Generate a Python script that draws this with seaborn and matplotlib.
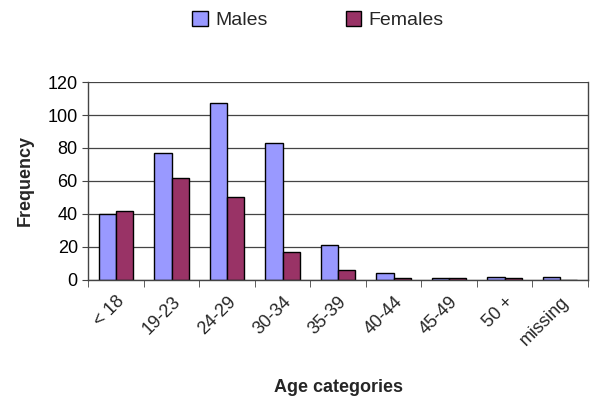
import numpy as np
import pandas as pd
import matplotlib
matplotlib.use("Agg")
import matplotlib.pyplot as plt
from matplotlib.ticker import FixedLocator
import seaborn as sns

# data
categories = ["< 18", "19-23", "24-29", "30-34", "35-39", "40-44", "45-49", "50 +", "missing"]
males = [40, 77, 107, 83, 21, 4, 1, 2, 2]
females = [42, 62, 50, 17, 6, 1, 1, 1, 0]

df = pd.DataFrame({
    "cat": categories * 2,
    "freq": males + females,
    "sex": ["Males"] * len(categories) + ["Females"] * len(categories),
})

sns.set_style("white")
plt.rcParams["font.family"] = ["Liberation Sans", "DejaVu Sans"]

fig = plt.figure(figsize=(6, 4.04), dpi=100)
ax = fig.add_axes([0.147, 0.307, 0.833, 0.49])

sns.barplot(data=df, x="cat", y="freq", hue="sex", order=categories,
            palette={"Males": "#9999FF", "Females": "#993366"}, saturation=1,
            width=0.62, edgecolor="black", linewidth=1, ax=ax)

ax.set_ylim(0, 120)
ax.set_xlim(-0.5, len(categories) - 0.5)
ax.set_yticks(range(0, 121, 20))
ax.yaxis.grid(True, color="#444444", linewidth=0.9)
ax.set_axisbelow(True)
for s in ax.spines.values():
    s.set_color("#444444")
    s.set_linewidth(1)
ax.spines["top"].set_visible(False)

ax.tick_params(axis="y", labelsize=13, left=True, length=4, color="#444444", colors="black")
ax.tick_params(axis="x", which="major", labelsize=13, bottom=False, pad=6)
ax.xaxis.set_minor_locator(FixedLocator(np.arange(-0.5, len(categories), 1)))
ax.tick_params(axis="x", which="minor", bottom=True, length=5, color="#444444")
plt.setp(ax.get_xticklabels(), rotation=45, ha="right", rotation_mode="anchor")

ax.set_ylabel("Frequency", fontsize=13, fontweight="bold", labelpad=10)
ax.set_xlabel("Age categories", fontsize=13, fontweight="bold", labelpad=22)

handles, labels = ax.get_legend_handles_labels()
ax.get_legend().remove()
fig.legend(handles, labels, loc="center", bbox_to_anchor=(0.53, 0.95), ncol=2, frameon=False,
           fontsize=14, handlelength=0.8, handleheight=0.8, columnspacing=4,
           handletextpad=0.4)

fig.savefig("out.png", dpi=100)
